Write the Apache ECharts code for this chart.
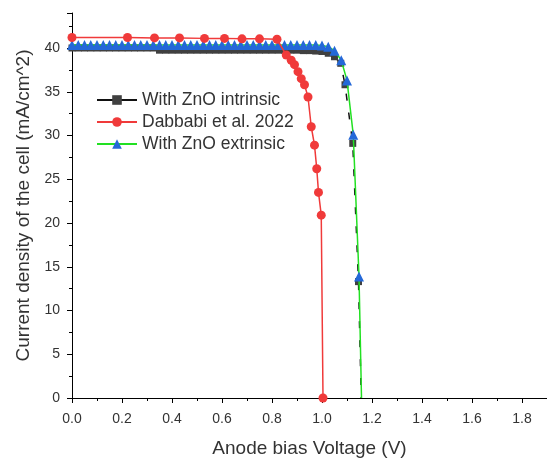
<!DOCTYPE html>
<html>
<head>
<meta charset="utf-8">
<script src="https://cdn.jsdelivr.net/npm/echarts@6/dist/echarts.min.js"></script>
<style>
html,body{margin:0;padding:0;background:#fff;}
#chart{width:547px;height:460px;}
</style>
</head>
<body>
<div id="chart"></div>
<script>
// ---- data ----
const seriesNames = ['With ZnO intrinsic', 'Dabbabi et al. 2022', 'With ZnO extrinsic'];

const intrinsicV = [0,0.025,0.05,0.075,0.1,0.125,0.15,0.175,0.2,0.225,0.25,0.275,0.3,0.325,
  0.35,0.375,0.4,0.425,0.45,0.475,0.5,0.525,0.55,0.575,0.6,0.625,0.65,0.675,0.7,0.725,0.75,
  0.775,0.8,0.825,0.85,0.875,0.9,0.925,0.95,0.975,1.0,1.025,1.05,1.075,1.092,1.123,1.146,1.157];
const intrinsicJ = [40.0,40.0,40.0,40.0,40.0,40.0,40.0,40.0,40.0,40.0,40.0,40.0,40.0,40.0,
  39.75,39.75,39.75,39.75,39.75,39.75,39.75,39.75,39.75,39.75,39.75,39.75,39.75,39.75,39.75,39.75,39.75,
  39.75,39.75,39.75,39.75,39.75,39.75,39.7,39.7,39.65,39.6,39.4,39.0,38.25,35.8,29.1,13.3,0];

const dabbabiV = [0,0.222,0.33,0.43,0.53,0.61,0.68,0.75,0.82,0.857,0.877,0.89,0.904,0.917,
  0.93,0.944,0.957,0.970,0.979,0.986,0.997,1.004];
const dabbabiJ = [41.2,41.2,41.15,41.15,41.1,41.1,41.05,41.05,41.0,39.2,38.6,38.1,37.3,36.5,
  35.8,34.4,31.0,28.9,26.2,23.5,20.9,0];

const extrinsicV = [0,0.025,0.05,0.075,0.1,0.125,0.15,0.175,0.2,0.225,0.25,0.275,0.3,0.325,
  0.35,0.375,0.4,0.425,0.45,0.475,0.5,0.525,0.55,0.575,0.6,0.625,0.65,0.675,0.7,0.725,0.75,
  0.775,0.8,0.825,0.85,0.875,0.9,0.925,0.95,0.975,1.0,1.025,1.05,1.077,1.1,1.125,1.148,1.158];
const extrinsicJ = [40.35,40.35,40.35,40.35,40.35,40.35,40.35,40.35,40.35,40.35,40.35,40.35,40.35,40.35,
  40.35,40.35,40.35,40.35,40.35,40.35,40.35,40.35,40.35,40.35,40.35,40.35,40.35,40.35,40.35,40.35,40.35,
  40.35,40.35,40.35,40.35,40.35,40.35,40.35,40.35,40.35,40.3,40.15,39.7,38.6,36.3,30.1,13.9,0];

// points drawn without a marker (end of the sweep at J = 0)
const noMarkerIntrinsic = [47];
const noMarkerExtrinsic = [47];

const xTicks = {min: 0, max: 1.9, interval: 0.2};
const yTicks = {min: 0, max: 44, interval: 5};

function pts(xs, ys, hidden) {
  return xs.map((x, i) => {
    const item = {value: [x, ys[i]]};
    if (hidden && hidden.indexOf(i) >= 0) item.symbol = 'none';
    return item;
  });
}

const font = "'Liberation Sans', Arial, sans-serif";
const chart = echarts.init(document.getElementById('chart'), null, {renderer: 'canvas'});
chart.setOption({
  backgroundColor: '#fff',
  animation: false,
  textStyle: {fontFamily: font},
  grid: {left: 72, right: 0, top: 13, bottom: 62, containLabel: false, outerBoundsMode: 'none'},
  legend: {
    orient: 'vertical', left: 96, top: 91, padding: 0,
    itemWidth: 40, itemHeight: 12, itemGap: 4,
    data: seriesNames,
    textStyle: {fontSize: 17.5, color: '#333', fontFamily: font},
    lineStyle: {type: 'solid'}
  },
  xAxis: {
    type: 'value', min: xTicks.min, max: xTicks.max, interval: xTicks.interval,
    name: 'Anode bias Voltage (V)', nameLocation: 'middle', nameGap: 41,
    nameTextStyle: {fontSize: 19, color: '#333', fontFamily: font},
    axisLine: {lineStyle: {color: '#000', width: 1}},
    axisTick: {show: true, inside: false, length: 5, lineStyle: {color: '#000'}},
    minorTick: {show: true, splitNumber: 2, length: 3, lineStyle: {color: '#000'}},
    splitLine: {show: false},
    axisLabel: {fontSize: 14, color: '#333', margin: 14, showMaxLabel: false,
      formatter: v => v.toFixed(1)}
  },
  yAxis: {
    type: 'value', min: yTicks.min, max: yTicks.max, interval: yTicks.interval,
    name: 'Current density of the cell (mA/cm^2)', nameLocation: 'middle', nameGap: 33,
    nameTextStyle: {fontSize: 19, color: '#333', fontFamily: font},
    axisLine: {show: true, lineStyle: {color: '#000', width: 1}},
    axisTick: {show: true, inside: false, length: 5, lineStyle: {color: '#000'}},
    minorTick: {show: true, splitNumber: 2, length: 3, lineStyle: {color: '#000'}},
    splitLine: {show: false},
    axisLabel: {fontSize: 14, color: '#333', margin: 12, showMaxLabel: false}
  },
  series: [
    {
      name: seriesNames[0], type: 'line', z: 2,
      data: pts(intrinsicV, intrinsicJ, noMarkerIntrinsic),
      symbol: 'rect', symbolSize: 7, showAllSymbol: true,
      itemStyle: {color: '#404040'},
      lineStyle: {color: '#111', width: 1.5, type: [7, 12]}
    },
    {
      name: seriesNames[2], type: 'line', z: 3,
      data: pts(extrinsicV, extrinsicJ, noMarkerExtrinsic),
      symbol: 'triangle', symbolSize: 10, showAllSymbol: true,
      itemStyle: {color: '#2468d8'},
      lineStyle: {color: '#22e022', width: 1.5}
    },
    {
      name: seriesNames[1], type: 'line', z: 4,
      data: pts(dabbabiV, dabbabiJ),
      symbol: 'circle', symbolSize: 9, showAllSymbol: true,
      itemStyle: {color: '#f03a3a'},
      lineStyle: {color: '#f03a3a', width: 1.5}
    }
  ]
});
</script>
</body>
</html>
